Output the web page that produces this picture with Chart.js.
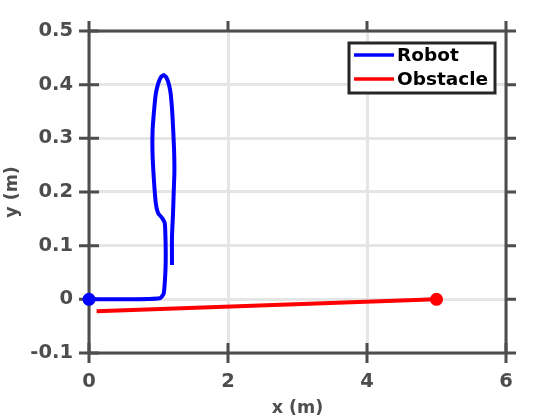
<!DOCTYPE html>
<html>
<head>
<meta charset="utf-8">
<script src="https://cdn.jsdelivr.net/npm/chart.js@4/dist/chart.umd.min.js"></script>
<style>
  html, body { margin: 0; padding: 0; background: #fff; }
  #wrap { width: 560px; height: 420px; }
</style>
</head>
<body>
<div id="wrap"><canvas id="trajChart" width="560" height="420"></canvas></div>
<script>
// Trajectory data (metres)
const robotX = [0, 0.5, 1.017, 1.075, 1.10, 1.104, 1.10, 1.09, 1.056, 0.993, 0.96, 0.925, 0.912, 0.915, 0.931, 0.96, 0.993, 1.03, 1.075, 1.115, 1.151, 1.176, 1.20, 1.223, 1.229, 1.219, 1.209, 1.194, 1.194];
const robotY = [0, 0, 0.002, 0.011, 0.054, 0.086, 0.116, 0.142, 0.151, 0.161, 0.18, 0.241, 0.282, 0.315, 0.344, 0.382, 0.401, 0.413, 0.418, 0.413, 0.40, 0.382, 0.344, 0.282, 0.238, 0.20, 0.16, 0.116, 0.064];
const obstacleX = [0.11, 5.0];
const obstacleY = [-0.022, 0];

const xTicks = [0, 2, 4, 6];
const yTicks = [-0.1, 0, 0.1, 0.2, 0.3, 0.4, 0.5];

const seriesLabels = ['Robot', 'Obstacle'];
const seriesColors = ['#0000ff', '#ff0000'];

const AXIS = '#4d4d4d';
const GRID = '#e5e5e5';
const FONT = "'DejaVu Sans', sans-serif";

function toPoints(xs, ys) {
    return xs.map((x, i) => ({ x: x, y: ys[i] }));
}

// box axes, tick marks and legend drawn around the chart area
const boxPlugin = {
    id: 'boxAxes',
    beforeDatasetsDraw(chart) {
        const { ctx, chartArea: a, scales } = chart;
        const len = 10;
        ctx.save();
        ctx.strokeStyle = AXIS;
        ctx.lineWidth = 3;
        ctx.lineCap = 'butt';
        ctx.strokeRect(a.left, a.top, a.right - a.left, a.bottom - a.top);
        ctx.beginPath();
        xTicks.forEach(v => {
            const px = scales.x.getPixelForValue(v);
            ctx.moveTo(px, a.bottom - len); ctx.lineTo(px, a.bottom + len);
            ctx.moveTo(px, a.top - len); ctx.lineTo(px, a.top);
        });
        yTicks.forEach(v => {
            const py = scales.y.getPixelForValue(v);
            ctx.moveTo(a.left - len, py); ctx.lineTo(a.left + len, py);
            ctx.moveTo(a.right, py); ctx.lineTo(a.right + len, py);
        });
        ctx.stroke();
        ctx.restore();
    },
    afterDatasetsDraw(chart) {
        const { ctx, chartArea: a } = chart;
        const bx = a.right - 157, by = a.top + 12, bw = 146, bh = 50;
        ctx.save();
        ctx.fillStyle = '#fff';
        ctx.fillRect(bx, by, bw, bh);
        ctx.strokeStyle = '#262626';
        ctx.lineWidth = 3;
        ctx.strokeRect(bx, by, bw, bh);
        ctx.font = 'bold 18.5px ' + FONT;
        ctx.textBaseline = 'middle';
        chart.data.datasets.forEach((ds, i) => {
            const cy = by + 12 + i * 24;
            ctx.strokeStyle = ds.borderColor;
            ctx.lineWidth = 3.5;
            ctx.beginPath();
            ctx.moveTo(bx + 5, cy); ctx.lineTo(bx + 45, cy);
            ctx.stroke();
            ctx.fillStyle = '#000';
            ctx.fillText(ds.label, bx + 48, cy + 1);
        });
        ctx.restore();
    }
};

new Chart(document.getElementById('trajChart'), {
    type: 'scatter',
    data: {
        datasets: [
            {
                label: seriesLabels[0],
                data: toPoints(robotX, robotY),
                showLine: true,
                borderColor: seriesColors[0],
                backgroundColor: seriesColors[0],
                borderWidth: 4,
                pointRadius: c => c.dataIndex === 0 ? 6.5 : 0,
                pointBorderWidth: 0,
                tension: 0.2,
                clip: false
            },
            {
                label: seriesLabels[1],
                data: toPoints(obstacleX, obstacleY),
                showLine: true,
                borderColor: seriesColors[1],
                backgroundColor: seriesColors[1],
                borderWidth: 4,
                pointRadius: c => c.dataIndex === obstacleX.length - 1 ? 6.5 : 0,
                pointBorderWidth: 0,
                clip: false
            }
        ]
    },
    options: {
        responsive: false,
        animation: false,
        layout: { padding: { top: 31, right: 54, left: 0, bottom: 0 } },
        plugins: {
            legend: { display: false },
            tooltip: { enabled: false }
        },
        scales: {
            x: {
                type: 'linear',
                min: 0,
                max: 6,
                afterBuildTicks: s => { s.ticks = xTicks.map(v => ({ value: v })); },
                afterFit: s => { s.height = 67; },
                grid: { color: GRID, lineWidth: 3, drawTicks: false },
                border: { display: false },
                ticks: { color: AXIS, padding: 17, font: { family: FONT, size: 19.5, weight: 'bold' } },
                title: { display: true, text: 'x (m)', color: AXIS, padding: { bottom: 1 }, font: { family: FONT, size: 17.5, weight: 'bold' } }
            },
            y: {
                type: 'linear',
                min: -0.1,
                max: 0.5,
                afterBuildTicks: s => { s.ticks = yTicks.map(v => ({ value: v })); },
                afterFit: s => { s.width = 89; },
                grid: { color: GRID, lineWidth: 3, drawTicks: false },
                border: { display: false },
                ticks: {
                    color: AXIS,
                    padding: 16,
                    font: { family: FONT, size: 19.5, weight: 'bold' },
                    callback: v => (Math.abs(v) < 1e-9 ? '0' : Number(v.toFixed(1)).toString())
                },
                title: { display: true, text: 'y (m)', color: AXIS, padding: { top: 2 }, font: { family: FONT, size: 17.5, weight: 'bold' } }
            }
        }
    },
    plugins: [boxPlugin]
});
</script>
</body>
</html>
